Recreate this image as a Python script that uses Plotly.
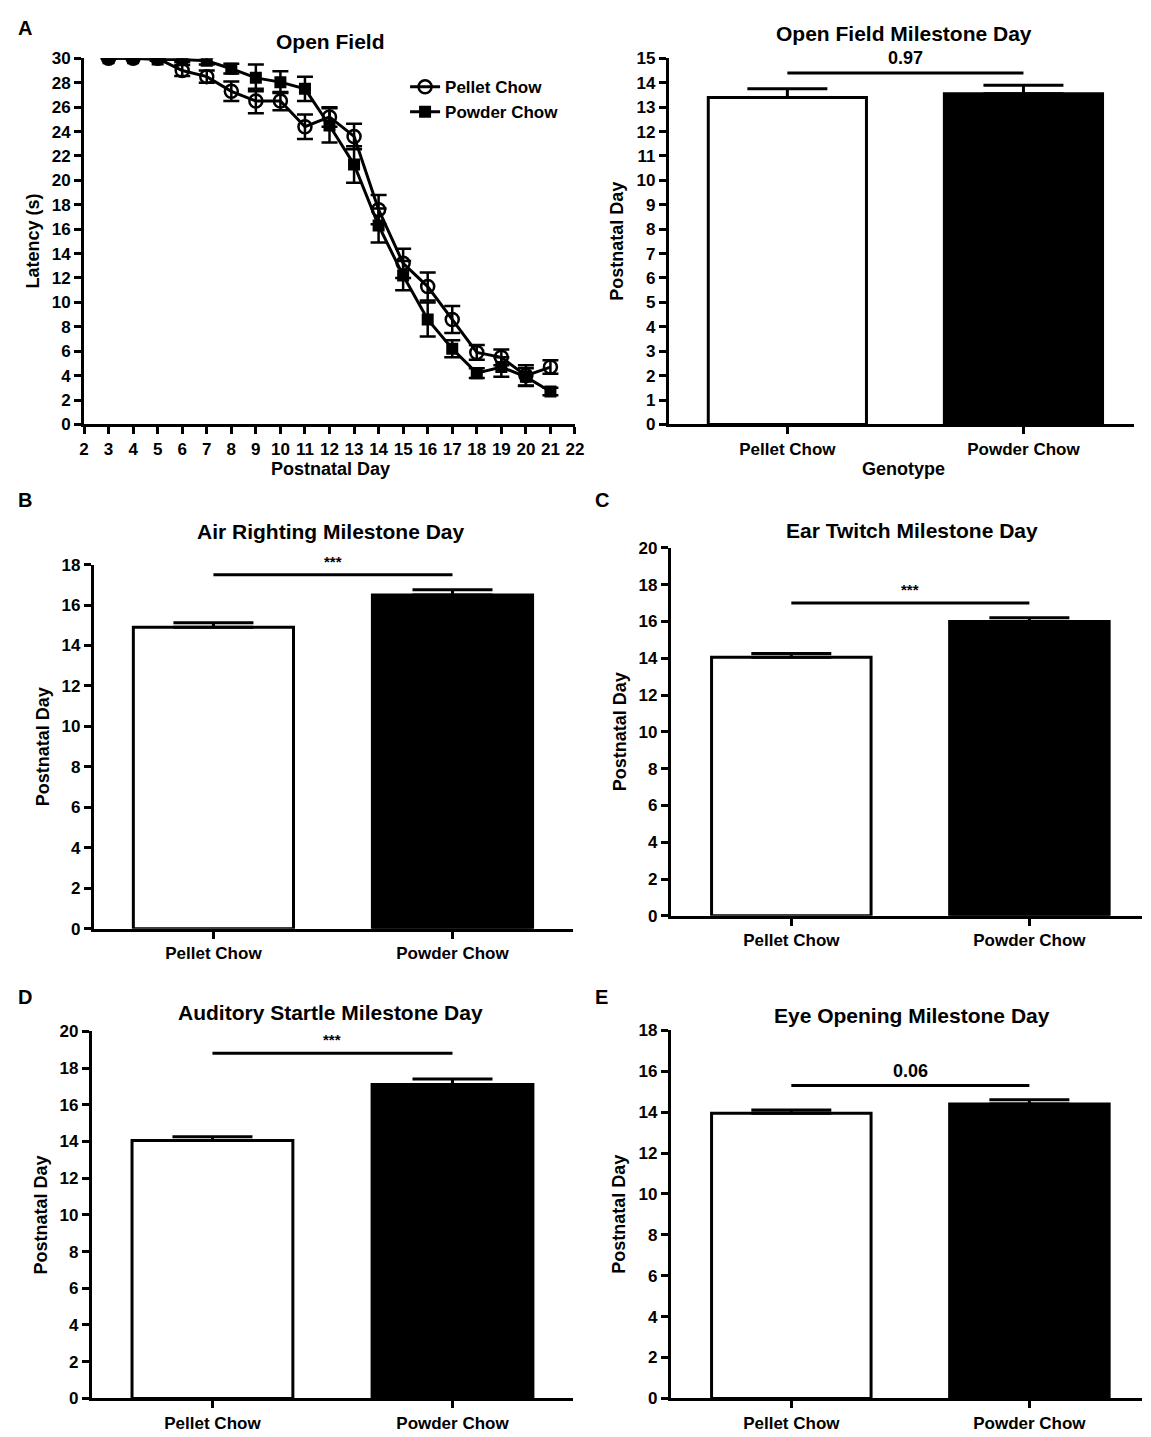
import plotly.graph_objects as go

W, H = 1151, 1437
FONT = "Liberation Sans, Arial, sans-serif"

# ---------------- data ----------------
days = [3, 4, 5, 6, 7, 8, 9, 10, 11, 12, 13, 14, 15, 16, 17, 18, 19, 20, 21]
pellet_mean = [30.0, 30.0, 30.0, 29.0, 28.5, 27.3, 26.5, 26.5, 24.4, 25.2, 23.6, 17.6, 13.2, 11.3, 8.6, 5.9, 5.5, 4.0, 4.7]
pellet_sem = [0.0, 0.0, 0.1, 0.45, 0.5, 0.8, 1.0, 0.75, 1.0, 0.8, 1.05, 1.2, 1.2, 1.15, 1.1, 0.6, 0.65, 0.85, 0.55]
powder_mean = [30.0, 30.0, 29.9, 29.9, 29.8, 29.15, 28.4, 28.05, 27.5, 24.5, 21.3, 16.3, 12.2, 8.6, 6.2, 4.2, 4.7, 3.9, 2.7]
powder_sem = [0.0, 0.0, 0.1, 0.2, 0.3, 0.4, 1.1, 0.9, 1.0, 1.4, 1.5, 1.4, 1.2, 1.4, 0.7, 0.4, 0.8, 0.7, 0.3]

groups = ["Pellet Chow", "Powder Chow"]
of_mean = [13.4, 13.55]
of_sem = [0.35, 0.35]
ar_mean = [14.9, 16.5]
ar_sem = [0.22, 0.25]
et_mean = [14.05, 16.0]
et_sem = [0.2, 0.2]
as_mean = [14.05, 17.1]
as_sem = [0.2, 0.3]
eo_mean = [13.95, 14.4]
eo_sem = [0.15, 0.2]

# ---------------- helpers ----------------
def fx(px):
    return px / W

def fy(py):
    return 1 - py / H

fig = go.Figure()

def axis_common():
    return dict(
        showline=True, linecolor="black", linewidth=3,
        ticks="outside", ticklen=7, tickwidth=2.5, tickcolor="black",
        showgrid=False, zeroline=False,
        tickfont=dict(family=FONT, size=17, color="black", weight="bold"),
    )

annotations = []
shapes = []

def add_text(x, y, text, size=21, angle=0):
    annotations.append(dict(
        x=fx(x), y=fy(y), xref="paper", yref="paper", text=text,
        showarrow=False, textangle=angle, xanchor="center", yanchor="middle",
        font=dict(family=FONT, size=size, color="black", weight="bold"),
    ))

# ---------------- panel A (line chart) ----------------
fig.add_trace(go.Scatter(
    x=days, y=pellet_mean, name="Pellet Chow", mode="lines+markers",
    line=dict(color="black", width=3),
    marker=dict(symbol="circle-open", size=13, color="black", line=dict(width=2.5)),
    error_y=dict(type="data", array=pellet_sem, color="black", thickness=2.5, width=8),
    xaxis="x", yaxis="y", showlegend=True,
))
fig.add_trace(go.Scatter(
    x=days, y=powder_mean, name="Powder Chow", mode="lines+markers",
    line=dict(color="black", width=3),
    marker=dict(symbol="square", size=12, color="black"),
    error_y=dict(type="data", array=powder_sem, color="black", thickness=2.5, width=8),
    xaxis="x", yaxis="y", showlegend=True,
))

layout = dict(
    width=W, height=H, margin=dict(l=0, r=0, t=0, b=0),
    paper_bgcolor="white", plot_bgcolor="white",
    font=dict(family=FONT, color="black"),
    legend=dict(
        x=fx(405), y=fy(61), xanchor="left", yanchor="top",
        bgcolor="rgba(0,0,0,0)", tracegroupgap=0, itemsizing="trace",
        font=dict(family=FONT, size=17, color="black", weight="bold"),
    ),
)

ax = axis_common()
ax.update(domain=[fx(80), fx(577)], range=[2, 22], dtick=1, tick0=2, anchor="y")
layout["xaxis"] = ax
ay = axis_common()
ay.update(domain=[fy(421), fy(50)], range=[0, 30], dtick=2, anchor="x")
layout["yaxis"] = ay
add_text(330, 33, "Open Field", 21)
add_text(330, 466, "Postnatal Day", 18)
add_text(28, 235, "Latency (s)", 18, -90)
add_text(20, 19, "A", 20)

# ---------------- bar panels ----------------
panels = [
    dict(i=2, m=of_mean, s=of_sem, xl=672, xr=1143, yt=50, yb=421, ymax=15, dt=1,
         c0=792, c1=1031, title="Open Field Milestone Day", tx=910, ty=25,
         sig="0.97", sigy=14.4, sigsize=18),
    dict(i=3, m=ar_mean, s=ar_sem, xl=90, xr=575, yt=563, yb=932, ymax=18, dt=2,
         c0=211, c1=453, title="Air Righting Milestone Day", tx=330, ty=530,
         sig="***", sigy=17.5, sigsize=15),
    dict(i=4, m=et_mean, s=et_sem, xl=674, xr=1151, yt=546, yb=919, ymax=20, dt=2,
         c0=796, c1=1037, title="Ear Twitch Milestone Day", tx=918, ty=528,
         sig="***", sigy=17.0, sigsize=15),
    dict(i=5, m=as_mean, s=as_sem, xl=88, xr=575, yt=1036, yb=1408, ymax=20, dt=2,
         c0=210, c1=453, title="Auditory Startle Milestone Day", tx=330, ty=1017,
         sig="***", sigy=18.8, sigsize=15),
    dict(i=6, m=eo_mean, s=eo_sem, xl=674, xr=1151, yt=1035, yb=1408, ymax=18, dt=2,
         c0=796, c1=1037, title="Eye Opening Milestone Day", tx=918, ty=1020,
         sig="0.06", sigy=15.3, sigsize=18),
]

for p in panels:
    i = p["i"]
    unit = p["c1"] - p["c0"]
    r0 = (p["xl"] - p["c0"]) / unit
    r1 = (p["xr"] - p["c0"]) / unit
    xa, ya = f"x{i}", f"y{i}"
    for k, (g, col) in enumerate(zip(groups, ["white", "black"])):
        fig.add_trace(go.Bar(
            x=[g], y=[p["m"][k]], xaxis=xa, yaxis=ya, width=0.67,
            marker=dict(color=col, line=dict(color="black", width=3)),
            error_y=dict(type="data", symmetric=False, array=[p["s"][k]], arrayminus=[0],
                         color="black", thickness=3, width=40),
            showlegend=False,
        ))
    ax = axis_common()
    ax.update(domain=[fx(p["xl"]), fx(p["xr"])], range=[r0, r1], anchor=ya,
              type="category", categoryorder="array", categoryarray=groups,
              tickfont=dict(family=FONT, size=17, color="black", weight="bold"))
    layout[f"xaxis{i}"] = ax
    ay = axis_common()
    ay.update(domain=[fy(p["yb"]), fy(p["yt"])], range=[0, p["ymax"]], dtick=p["dt"], anchor=xa)
    layout[f"yaxis{i}"] = ay
    add_text(p["tx"], p["ty"], p["title"], 21)
    # significance bar
    shapes.append(dict(type="line", xref=xa, yref=ya, x0=0, x1=1, y0=p["sigy"], y1=p["sigy"],
                       line=dict(color="black", width=3)))
    annotations.append(dict(
        x=0.5, y=p["sigy"], xref=xa, yref=ya, text=p["sig"], showarrow=False,
        xanchor="center", yanchor="bottom", yshift=3,
        font=dict(family=FONT, size=p["sigsize"], color="black", weight="bold"),
    ))
    add_text(p["xl"] - 52, (p["yt"] + p["yb"]) / 2, "Postnatal Day", 18, -90)

add_text(910, 466, "Genotype", 18)
add_text(20, 498, "B", 20)
add_text(604, 498, "C", 20)
add_text(20, 1001, "D", 20)
add_text(604, 1001, "E", 20)

layout["annotations"] = annotations
layout["shapes"] = shapes
fig.update_layout(**layout)
fig.write_html("out.html")
